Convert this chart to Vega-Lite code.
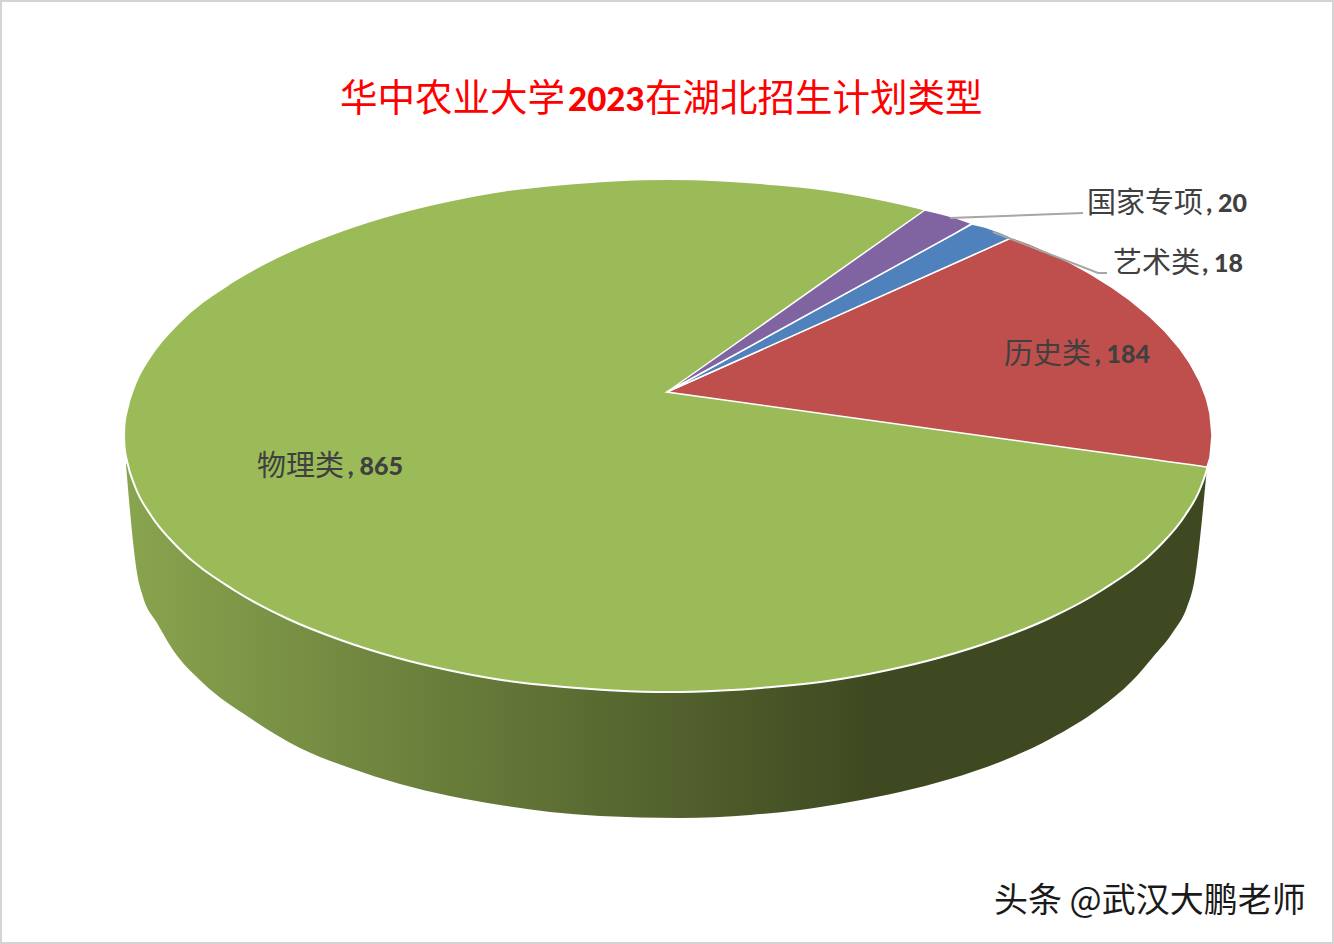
{"$schema":"https://vega.github.io/schema/vega-lite/v6.json","width":1334,"height":944,"padding":0,"autosize":{"type":"fit","contains":"padding"},"background":"white","config":{"view":{"stroke":"#d4d4d4","strokeWidth":4},"axis":{"disable":true}},
"encoding":{"x":{"field":"x","type":"quantitative","axis":null,"scale":{"domain":[0,1334],"nice":false,"zero":false}},"y":{"field":"y","type":"quantitative","axis":null,"scale":{"domain":[944,0],"nice":false,"zero":false}}},
"layer":[
{"mark":{"type":"area","interpolate":"monotone","color":{"gradient":"linear","x1":0,"y1":0,"x2":1,"y2":0,"stops":[{"offset":0,"color":"#89a44e"},{"offset":0.69,"color":"#3e4921"},{"offset":1,"color":"#3e4921"}]}},
"encoding":{"y2":{"field":"y2"}},
"data":{"values":[{"x":126,"y":465,"y2":465},{"x":137,"y":450,"y2":573},{"x":143,"y":450,"y2":597},{"x":157,"y":450,"y2":623},{"x":173,"y":450,"y2":650},{"x":203,"y":450,"y2":683},{"x":250,"y":450,"y2":718},{"x":300,"y":450,"y2":748},{"x":350,"y":450,"y2":768},{"x":400,"y":450,"y2":784},{"x":450,"y":450,"y2":796},{"x":500,"y":450,"y2":805},{"x":550,"y":450,"y2":812},{"x":600,"y":450,"y2":816},{"x":680,"y":450,"y2":818},{"x":750,"y":450,"y2":815},{"x":800,"y":450,"y2":810},{"x":850,"y":450,"y2":802},{"x":900,"y":450,"y2":792},{"x":950,"y":450,"y2":779},{"x":1000,"y":450,"y2":762},{"x":1050,"y":450,"y2":739},{"x":1100,"y":450,"y2":708},{"x":1132,"y":450,"y2":681},{"x":1153,"y":450,"y2":657},{"x":1173,"y":450,"y2":632},{"x":1187,"y":450,"y2":607},{"x":1194,"y":450,"y2":583},{"x":1207,"y":467,"y2":467}]}},
{"mark":{"type":"area","interpolate":"monotone","color":"#9BBB59","stroke":"white","strokeWidth":2},
"encoding":{"y2":{"field":"y2"}},
"data":{"values":[{"category":"物理类","x":124,"y":435.5,"y2":435.5},{"x":124.5,"y":424,"y2":447},{"x":127,"y":410,"y2":461},{"x":135,"y":384.5,"y2":486.5},{"x":151,"y":355.5,"y2":515.5},{"x":178,"y":323.5,"y2":547.5},{"x":233,"y":281.5,"y2":589.5},{"x":287,"y":252.5,"y2":618.5},{"x":342,"y":230.5,"y2":640.5},{"x":396,"y":213.5,"y2":657.5},{"x":450,"y":200.5,"y2":670.5},{"x":505,"y":190.5,"y2":680.5},{"x":559,"y":184.5,"y2":686.5},{"x":614,"y":180.5,"y2":690.5},{"x":668,"y":179,"y2":692},{"x":722,"y":180.5,"y2":690.5},{"x":777,"y":184.5,"y2":686.5},{"x":831,"y":190.5,"y2":680.5},{"x":886,"y":200.5,"y2":670.5},{"x":940,"y":213.5,"y2":657.5},{"x":994,"y":230.5,"y2":640.5},{"x":1049,"y":252.5,"y2":618.5},{"x":1103,"y":281.5,"y2":589.5},{"x":1158,"y":323.5,"y2":547.5},{"x":1185,"y":355.5,"y2":515.5},{"x":1201,"y":384.5,"y2":486.5},{"x":1209,"y":410,"y2":461},{"x":1211.5,"y":424,"y2":447},{"x":1212,"y":435.5,"y2":435.5}]}},
{"mark":{"type":"area","interpolate":"linear","color":"#BE4F4C","stroke":"white","strokeWidth":1.5},
"encoding":{"y2":{"field":"y2"}},
"data":{"values":[{"category":"历史类","x":667,"y":392,"y2":392},{"x":1012,"y":237.5,"y2":439.9},{"x":1030,"y":244,"y2":442.4},{"x":1050,"y":252.9,"y2":445.2},{"x":1070,"y":262.7,"y2":448},{"x":1090,"y":273.6,"y2":450.8},{"x":1110,"y":286,"y2":453.5},{"x":1130,"y":300.1,"y2":456.3},{"x":1150,"y":316.6,"y2":459.1},{"x":1165,"y":331.2,"y2":461.2},{"x":1180,"y":348.8,"y2":463.3},{"x":1190,"y":363.3,"y2":464.6},{"x":1200,"y":381.9,"y2":466},{"x":1206,"y":397.5,"y2":466.9},{"x":1207,"y":400.8,"y2":467},{"x":1210,"y":413.5,"y2":457.5},{"x":1212,"y":435.5,"y2":435.5}]}},
{"mark":{"type":"area","interpolate":"linear","color":"#4F81BD","stroke":"white","strokeWidth":1.5},
"encoding":{"y2":{"field":"y2"}},
"data":{"values":[{"category":"艺术类","x":667,"y":392,"y2":392},{"x":972,"y":224,"y2":255.5},{"x":985,"y":227,"y2":249.6},{"x":1000,"y":232.3,"y2":242.9},{"x":1012,"y":237.5,"y2":237.5}]}},
{"mark":{"type":"area","interpolate":"linear","color":"#8064A2","stroke":"white","strokeWidth":1.5},
"encoding":{"y2":{"field":"y2"}},
"data":{"values":[{"category":"国家专项","x":667,"y":392,"y2":392},{"x":925,"y":210,"y2":249.9},{"x":940,"y":213.5,"y2":241.6},{"x":955,"y":217.6,"y2":233.3},{"x":972,"y":223.5,"y2":223.5}]}},
{"mark":{"type":"line","color":"#a6a6a6","strokeWidth":2},
"encoding":{"detail":{"field":"category"}},
"data":{"values":[{"category":"国家专项","x":950,"y":218},{"category":"国家专项","x":1083,"y":213},{"category":"艺术类","x":993,"y":232},{"category":"艺术类","x":1098,"y":273},{"category":"艺术类","x":1107,"y":273}]}},
{"data":{"name":"labels","values":[{"category":"物理类","value":865,"label":", 865","x":257,"xEnd":403,"y":467},{"category":"历史类","value":184,"label":", 184","x":1004,"xEnd":1150,"y":355},{"category":"艺术类","value":18,"label":", 18","x":1113,"xEnd":1243,"y":264},{"category":"国家专项","value":20,"label":", 20","x":1087,"xEnd":1247,"y":204}]},
"mark":{"type":"text","align":"left","baseline":"middle","font":"Noto Sans CJK SC","fontSize":29,"color":"#404040"},
"encoding":{"text":{"field":"category"}}},
{"data":{"name":"labels"},
"mark":{"type":"text","align":"right","baseline":"middle","font":"Lato","fontWeight":900,"fontSize":25,"color":"#404040"},
"encoding":{"x":{"field":"xEnd","type":"quantitative"},"text":{"field":"label"}}},
{"data":{"values":[{"text":"华中农业大学","x":340,"y":100},{"text":"在湖北招生计划类型","x":645,"y":100}]},
"mark":{"type":"text","align":"left","baseline":"middle","font":"Noto Sans CJK SC","fontSize":37.5,"color":"#FF0000"},
"encoding":{"text":{"field":"text"}}},
{"data":{"values":[{"text":"2023","x":568,"y":101}]},
"mark":{"type":"text","align":"left","baseline":"middle","font":"Lato","fontWeight":900,"fontSize":33,"color":"#FF0000"},
"encoding":{"text":{"field":"text"}}},
{"data":{"values":[{"text":"头条 @武汉大鹏老师","x":994,"y":902}]},
"mark":{"type":"text","align":"left","baseline":"middle","font":"Noto Sans CJK SC","fontSize":34,"color":"#1a1a1a"},
"encoding":{"text":{"field":"text"}}}
]}
